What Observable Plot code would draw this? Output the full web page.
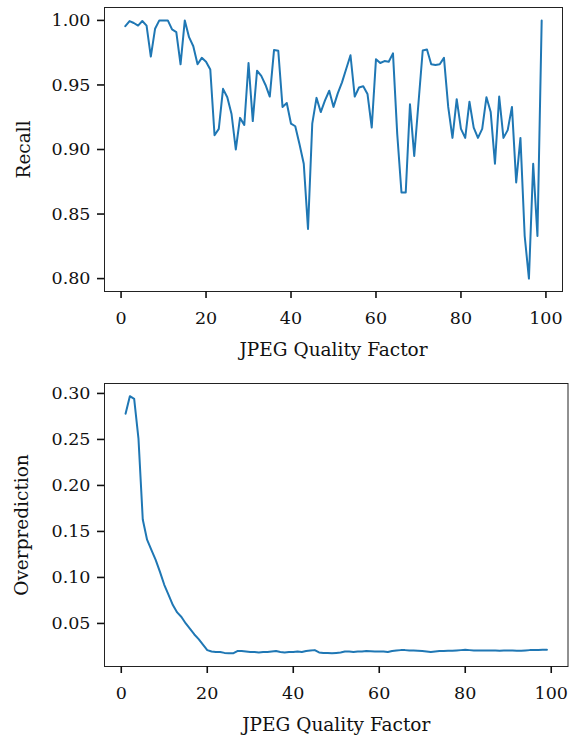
<!DOCTYPE html>
<html><head><meta charset="utf-8">
<script src="https://cdn.jsdelivr.net/npm/d3@7"></script>
<script src="https://cdn.jsdelivr.net/npm/@observablehq/plot@0.6"></script>
<style>
body{margin:0;background:#fff;}
#chart svg{display:block;}
[aria-label="x-axis label"],[aria-label="y-axis label"]{font-size:18.5px;}
</style>
</head><body><div id="chart"></div>
<script>
const quality = [1,2,3,4,5,6,7,8,9,10,11,12,13,14,15,16,17,18,19,20,21,22,23,24,25,26,27,28,29,30,31,32,33,34,35,36,37,38,39,40,41,42,43,44,45,46,47,48,49,50,51,52,53,54,55,56,57,58,59,60,61,62,63,64,65,66,67,68,69,70,71,72,73,74,75,76,77,78,79,80,81,82,83,84,85,86,87,88,89,90,91,92,93,94,95,96,97,98,99];
const recall = [0.9955,0.9995,0.998,0.996,0.9995,0.996,0.972,0.9935,1.0,1.0,1.0,0.993,0.991,0.966,1.0,0.987,0.980,0.966,0.971,0.968,0.962,0.911,0.916,0.947,0.9405,0.9275,0.900,0.9245,0.919,0.967,0.922,0.961,0.957,0.950,0.941,0.977,0.9765,0.933,0.936,0.920,0.918,0.904,0.889,0.8385,0.920,0.940,0.929,0.938,0.9455,0.933,0.9435,0.952,0.9625,0.973,0.941,0.948,0.949,0.943,0.917,0.970,0.967,0.9685,0.968,0.9745,0.912,0.8667,0.8667,0.935,0.895,0.936,0.9767,0.9775,0.966,0.9655,0.966,0.971,0.933,0.909,0.939,0.916,0.909,0.937,0.917,0.909,0.916,0.9405,0.929,0.889,0.941,0.909,0.915,0.933,0.8745,0.909,0.833,0.800,0.889,0.833,1.0];
const overprediction = [0.278,0.297,0.294,0.251,0.163,0.141,0.130,0.119,0.106,0.092,0.081,0.070,0.062,0.057,0.050,0.044,0.038,0.033,0.027,0.021,0.0195,0.019,0.019,0.018,0.0175,0.0175,0.020,0.020,0.0195,0.019,0.019,0.0185,0.019,0.019,0.0195,0.020,0.019,0.0185,0.019,0.019,0.0195,0.019,0.020,0.0205,0.021,0.0185,0.018,0.0178,0.0175,0.018,0.0185,0.0195,0.0195,0.019,0.0195,0.0195,0.020,0.0198,0.0196,0.0195,0.0195,0.019,0.020,0.0205,0.021,0.021,0.0207,0.0205,0.0203,0.020,0.0195,0.019,0.0195,0.020,0.020,0.0203,0.0203,0.0207,0.021,0.0214,0.021,0.0207,0.0207,0.0205,0.0207,0.0207,0.0205,0.0203,0.0205,0.0207,0.0205,0.0203,0.0203,0.0207,0.021,0.021,0.0212,0.0214,0.0214];
const xTicks = [0,20,40,60,80,100];
const recallTicks = [0.80,0.85,0.90,0.95,1.00];
const overTicks = [0.05,0.10,0.15,0.20,0.25,0.30];
const xLabel = "JPEG Quality Factor";

const data = quality.map((q,i)=>({q, recall: recall[i], over: overprediction[i]}));
const font = {fontFamily:"'DejaVu Serif', serif", fontSize:"17.5px", background:"#fff", color:"#111"};
const blue = "#1f77b4";

const topChart = Plot.plot({
  width:570, height:365,
  marginLeft:104, marginRight:8, marginTop:7, marginBottom:74,
  style: font,
  x:{domain:[-3.9,103.9]},
  y:{domain:[0.79,1.01]},
  marks:[
    Plot.frame({stroke:"#222", strokeWidth:1}),
    Plot.axisX({ticks:xTicks, tickSize:7, tickPadding:13, strokeWidth:1.6, label:xLabel, labelAnchor:"center", labelArrow:"none", labelOffset:64}),
    Plot.axisY({ticks:recallTicks, tickFormat:d3.format(".2f"), tickSize:7, tickPadding:7, strokeWidth:1.6, label:"Recall", labelAnchor:"center", labelArrow:"none", labelOffset:88}),
    Plot.line(data,{x:"q", y:"recall", stroke:blue, strokeWidth:2})
  ]
});

const bottomChart = Plot.plot({
  width:570, height:373,
  marginLeft:104, marginRight:2.5, marginTop:18, marginBottom:72,
  style: font,
  x:{domain:[-3.9,103.9]},
  y:{domain:[0.0032,0.3108]},
  marks:[
    Plot.frame({stroke:"#222", strokeWidth:1}),
    Plot.axisX({ticks:xTicks, tickSize:7, tickPadding:13, strokeWidth:1.6, label:xLabel, labelAnchor:"center", labelArrow:"none", labelOffset:64}),
    Plot.axisY({ticks:overTicks, tickFormat:d3.format(".2f"), tickSize:7, tickPadding:7, strokeWidth:1.6, label:"Overprediction", labelAnchor:"center", labelArrow:"none", labelOffset:90}),
    Plot.line(data,{x:"q", y:"over", stroke:blue, strokeWidth:2})
  ]
});

document.getElementById("chart").append(topChart, bottomChart);
</script>
</body></html>
